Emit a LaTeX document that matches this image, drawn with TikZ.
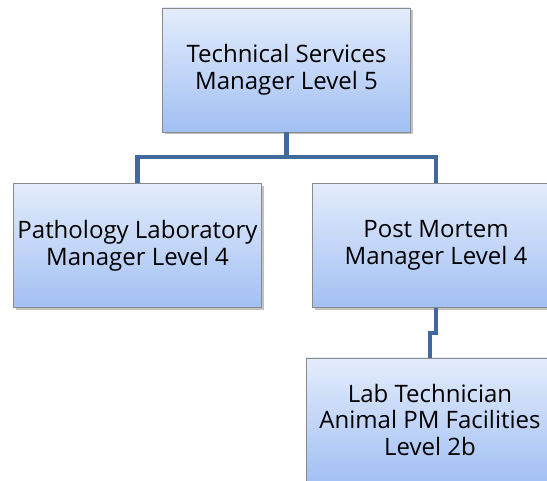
\documentclass[tikz,border=0pt]{standalone}
\usepackage{fontspec}
\setmainfont{Open Sans}
\usetikzlibrary{shadows}
\definecolor{linkblue}{HTML}{41699C}
\definecolor{boxtop}{HTML}{E3ECFB}
\definecolor{boxbot}{HTML}{A2C0F4}
\definecolor{boxedge}{HTML}{8A8A8A}
\tikzset{
  orgbox/.style={draw=boxedge, line width=0.8pt, top color=boxtop, bottom color=boxbot,
    minimum width=248pt, minimum height=124pt, inner sep=0pt, align=center,
    font=\fontsize{24}{27}\selectfont,
    drop shadow={shadow xshift=2.5pt, shadow yshift=-2.5pt, opacity=0.35, fill=black!70}},
  link/.style={draw=linkblue, line width=4.5pt}
}
\begin{document}
\begin{tikzpicture}[x=1pt, y=-1pt]
  \useasboundingbox (0,0) rectangle (547,481);
  \clip (0,0) rectangle (547,481);
  \node[orgbox] (tsm) at (286.5,70) {Technical Services\\Manager Level 5};
  \node[orgbox] (plm) at (137.5,245.5) {Pathology Laboratory\\Manager Level 4};
  \node[orgbox] (pmm) at (436,245.5) {Post Mortem\\Manager Level 4};
  \node[orgbox] (lab) at (430,420) {Lab Technician\\Animal PM Facilities\\Level 2b};
  % connectors
  \coordinate (bar) at (286.5,157);
  \draw[link] (tsm.south) -- (bar);
  \draw[link] (plm.north) -- (plm.north |- bar) -- (pmm.north |- bar) -- (pmm.north);
  \draw[link] (pmm.south) -- ++(0,25) -| (lab.north);
\end{tikzpicture}
\end{document}
